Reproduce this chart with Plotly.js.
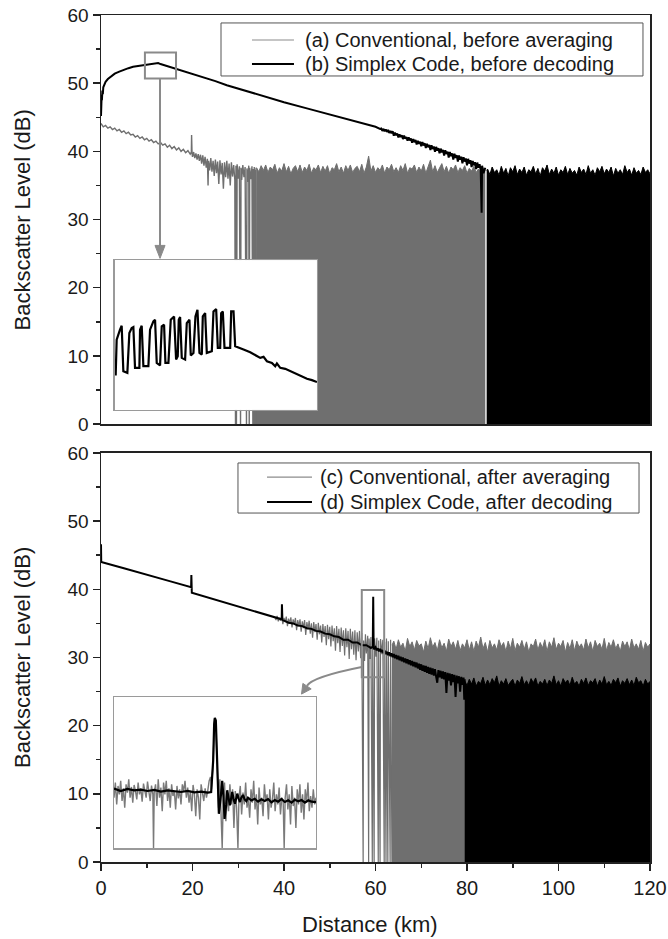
<!DOCTYPE html>
<html>
<head>
<meta charset="utf-8">
<script src="https://cdn.plot.ly/plotly-3.0.1.min.js"></script>
<style>html,body{margin:0;padding:0;background:#fff;}</style>
</head>
<body>
<div id="chart" style="width:668px;height:939px;"></div>
<script>
// ---------------- DATA (distance km, backscatter dB) ----------------
// Panel 1: (a) Conventional, before averaging  -- line part
const convA_line = [[0,44.1],[0.5,43.6],[1,43.8],[1.5,43.4],[2,43.6],[2.5,43.2],[3,43.4],[3.5,43.0],[4,43.2],[4.5,42.8],[5,43.0],[5.5,42.6],[6,42.8],[6.5,42.4],[7,42.5],[7.5,42.1],[8,42.3],[8.5,41.9],[9,42.1],[9.5,41.7],[10,41.9],[10.5,41.5],[11,41.7],[11.5,41.3],[12,41.5],[12.5,41.1],[13,41.3],[13.5,40.9],[14,41.1],[14.5,40.6],[15,40.9],[15.5,40.4],[16,40.7],[16.5,40.2],[17,40.5],[17.5,40.0],[18,40.3],[18.5,39.8],[19,40.1],[19.5,39.6],[19.75,39.9],[19.8,42.4],[19.9,39.7],[20,39.2],[20.25,39.9],[20.5,39.0],[20.75,39.7],[21,38.8],[21.25,39.6],[21.5,38.6],[21.75,39.5],[22,38.2],[22.25,39.4],[22.5,37.9],[22.75,39.2],[23,37.6],[23.25,38.9],[23.4,35.0],[23.5,38.6],[23.75,37.2],[24,39.0],[24.25,37.0],[24.5,38.6],[24.75,36.4],[25,38.8],[25.25,36.8],[25.5,38.5],[25.75,35.2],[26,38.7],[26.25,36.6],[26.5,38.3],[26.75,34.5],[27,38.4],[27.25,36.2],[27.5,38.6],[27.75,36.0],[28,38.2],[28.25,35.0],[28.5,38.4],[28.75,36.3],[29,38.0],[29.25,35.8],[29.4,0],[29.5,37.9],[29.6,0],[29.75,38.1],[30,36.0],[30.25,37.8],[30.5,0],[30.6,37.6],[30.75,35.8],[31,38.0],[31.25,36.2],[31.5,37.7],[31.8,0],[31.9,37.5],[32.1,35.5],[32.3,37.9],[32.4,0],[32.5,37.6],[32.75,35.9],[33,37.8],[33.2,0],[33.3,37.4],[33.4,0],[33.5,37.7],[33.6,0],[33.7,37.3],[33.8,0],[33.9,37.6],[34.0,0]];
// (a) noise floor, upper envelope (filled to 0)
const convA_floor = [[34,37.6],[34.5,37.0],[35,37.9],[35.5,37.2],[36,38.0],[36.5,36.9],[37,37.7],[37.5,37.3],[38,38.1],[38.5,36.8],[39,37.6],[39.5,37.1],[40,38.2],[40.5,37.0],[41,37.8],[41.5,36.7],[42,37.5],[42.5,37.9],[43,37.0],[43.5,38.0],[44,36.9],[44.5,37.7],[45,37.2],[45.5,38.1],[46,36.8],[46.5,37.6],[47,37.3],[47.5,38.0],[48,36.9],[48.5,37.8],[49,37.1],[49.5,37.9],[50,36.7],[50.5,37.6],[51,37.3],[51.5,38.2],[52,37.0],[52.5,37.7],[53,36.8],[53.5,37.9],[54,37.2],[54.5,38.0],[55,36.9],[55.5,37.5],[56,37.8],[56.5,37.0],[57,38.1],[57.5,36.8],[58,37.7],[58.5,39.3],[59,37.1],[59.5,37.9],[60,36.9],[60.5,37.6],[61,37.2],[61.5,38.0],[62,36.8],[62.5,37.7],[63,37.3],[63.5,38.1],[64,37.0],[64.5,37.6],[65,36.9],[65.5,37.9],[66,37.2],[66.5,38.2],[67,36.8],[67.5,37.6],[68,37.4],[68.5,38.0],[69,36.9],[69.5,37.7],[70,37.1],[70.5,38.1],[71,36.8],[71.5,37.8],[72,38.7],[72.5,37.0],[73,37.9],[73.5,36.9],[74,37.6],[74.5,38.2],[75,37.0],[75.5,37.8],[76,36.8],[76.5,37.7],[77,37.3],[77.5,38.0],[78,36.9],[78.5,37.6],[79,37.2],[79.5,37.9],[80,36.8],[80.5,37.5],[81,37.1],[81.5,37.8],[82,36.9],[82.5,37.4],[83,37.0],[83.5,37.6],[84,37.2]];
// (b) Simplex code, before decoding -- trace
const simB_line = [[0,45.2],[0.05,47.6],[0.1,46.4],[0.15,48.3],[0.2,47.5],[0.3,48.9],[0.4,48.4],[0.5,49.4],[0.7,49.8],[1,50.2],[1.5,50.6],[2,50.9],[2.5,51.2],[3,51.4],[4,51.7],[5,52.0],[6,52.2],[7,52.4],[8,52.5],[9,52.6],[10,52.7],[11,52.8],[12,52.9],[12.5,52.95],[13,52.8],[14,52.6],[15,52.4],[17.5,51.9],[20,51.35],[22.5,50.8],[25,50.3],[27.5,49.7],[30,49.2],[33,48.5],[36,47.9],[40,47.2],[45,46.3],[50,45.4],[55,44.5],[58,43.9],[60,43.6],[61,43.3],[61.25,43.35],[61.5,43.0],[61.75,43.3],[62,42.95],[62.25,43.2],[62.5,42.85],[62.75,43.15],[63,42.7],[63.25,43.0],[63.5,42.65],[63.75,42.95],[64,42.3],[64.25,42.75],[64.5,42.35],[64.75,42.6],[65,42.05],[65.25,42.5],[65.5,42.1],[65.75,42.35],[66,41.8],[66.25,42.3],[66.5,41.85],[66.75,42.1],[67,41.55],[67.25,42.05],[67.5,41.6],[67.75,41.9],[68,41.25],[68.25,41.8],[68.5,41.35],[68.75,41.65],[69,41.0],[69.25,41.55],[69.5,41.1],[69.75,41.4],[70,40.75],[70.25,41.35],[70.5,40.85],[70.75,41.2],[71,40.5],[71.25,41.1],[71.5,40.6],[71.75,40.95],[72,40.2],[72.25,40.9],[72.5,40.35],[72.75,40.7],[73,39.95],[73.25,40.65],[73.5,40.1],[73.75,40.45],[74,39.7],[74.25,40.4],[74.5,39.85],[74.75,40.2],[75,39.4],[75.25,40.15],[75.5,39.6],[75.75,39.95],[76,39.1],[76.25,39.9],[76.5,39.3],[76.75,39.7],[77,38.8],[77.25,39.65],[77.5,39.05],[77.75,39.45],[78,38.5],[78.25,39.4],[78.5,38.8],[78.75,39.2],[79,38.25],[79.25,39.15],[79.5,38.5],[79.75,38.95],[80,37.95],[80.25,38.9],[80.5,38.2],[80.75,38.7],[81,37.7],[81.25,38.6],[81.5,37.95],[81.75,38.4],[82,37.4],[82.25,38.35],[82.5,37.6],[82.75,38.1],[83,37.2],[83.2,31.0],[83.3,37.9],[83.6,36.8],[84,37.6]];
const simB_floor = [[84.3,37.2],[84.5,37.4],[85,36.6],[85.5,37.7],[86,36.9],[86.5,37.3],[87,36.5],[87.5,37.8],[88,36.8],[88.5,37.5],[89,36.4],[89.5,37.6],[90,37.0],[90.5,37.9],[91,36.6],[91.5,37.4],[92,36.9],[92.5,37.7],[93,36.5],[93.5,37.3],[94,37.0],[94.5,37.8],[95,36.7],[95.5,37.5],[96,36.4],[96.5,37.6],[97,37.1],[97.5,38.0],[98,36.6],[98.5,37.4],[99,36.8],[99.5,37.7],[100,36.5],[100.5,37.3],[101,36.9],[101.5,37.8],[102,36.6],[102.5,37.5],[103,36.8],[103.5,37.2],[104,36.5],[104.5,37.7],[105,36.9],[105.5,37.4],[106,36.6],[106.5,37.9],[107,36.8],[107.5,37.3],[108,36.5],[108.5,37.6],[109,37.0],[109.5,37.8],[110,36.7],[110.5,37.4],[111,36.9],[111.5,37.7],[112,36.4],[112.5,37.5],[113,36.8],[113.5,37.3],[114,36.6],[114.5,37.9],[115,36.9],[115.5,37.4],[116,36.5],[116.5,37.6],[117,36.8],[117.5,37.2],[118,36.6],[118.5,37.7],[119,36.9],[119.5,37.3],[120,36.7]];

// Panel 2: (c) Conventional, after averaging
const convC_line = [[38,35.9],[38.25,35.5],[38.5,36.1],[38.75,35.3],[39,35.8],[39.25,35.4],[39.5,36.0],[39.75,34.9],[40,35.8],[40.25,35.2],[40.5,36.0],[40.75,34.6],[41,35.7],[41.25,35.0],[41.5,35.9],[41.75,34.4],[42,35.6],[42.25,34.9],[42.5,35.8],[42.75,34.0],[43,35.5],[43.25,34.6],[43.5,35.6],[43.75,33.8],[44,35.3],[44.25,34.3],[44.5,35.5],[44.75,33.3],[45,35.2],[45.25,34.1],[45.5,35.4],[45.75,33.5],[46,35.0],[46.25,32.9],[46.5,35.2],[46.75,33.7],[47,34.9],[47.25,32.6],[47.5,35.1],[47.75,33.4],[48,34.7],[48.25,32.2],[48.5,34.9],[48.75,33.0],[49,34.6],[49.25,31.8],[49.5,34.8],[49.75,32.7],[50,34.5],[50.25,31.6],[50.5,34.7],[50.75,32.4],[51,34.3],[51.25,31.0],[51.5,34.6],[51.75,32.1],[52,34.2],[52.25,30.8],[52.5,34.4],[52.75,31.7],[53,34.0],[53.25,30.3],[53.5,34.3],[53.75,31.5],[54,33.9],[54.25,29.8],[54.5,34.2],[54.75,31.2],[55,33.8],[55.25,30.4],[55.5,34.0],[55.75,29.6],[56,33.7],[56.25,30.9],[56.5,33.9],[56.75,29.9],[57,33.6],[57.3,0],[57.4,32.5],[57.6,29.5],[57.8,33.4],[58.0,30.6],[58.3,33.2],[58.5,0],[58.6,32.8],[58.8,29.8],[59.0,33.0],[59.3,0],[59.4,32.6],[59.7,0],[59.8,32.8],[60.1,30.1],[60.3,32.9],[60.6,0],[60.7,32.5],[61.0,0],[61.1,32.7],[61.4,30.5],[61.6,32.6],[61.9,0],[62.0,32.3],[62.3,0],[62.4,32.8],[62.7,0],[62.8,32.4],[63.2,0],[63.3,32.6],[63.6,0]];
const convC_floor = [[63.6,31.8],[64,32.4],[64.5,31.2],[65,32.6],[65.5,31.5],[66,32.1],[66.5,30.9],[67,32.8],[67.5,31.6],[68,32.3],[68.5,31.1],[69,32.5],[69.5,31.7],[70,32.0],[70.5,30.8],[71,32.4],[71.5,31.3],[72,32.9],[72.5,31.5],[73,32.2],[73.5,31.0],[74,32.6],[74.5,31.4],[75,32.1],[75.5,30.9],[76,32.7],[76.5,31.6],[77,32.3],[77.5,31.2],[78,32.5],[78.5,31.0],[79,32.0],[79.5,31.4],[80,32.6],[80.5,31.1],[81,32.3],[81.5,30.9],[82,32.4],[82.5,31.5],[83,33.0],[83.5,31.3],[84,32.2],[84.5,30.8],[85,32.5],[85.5,31.4],[86,32.0],[86.5,31.1],[87,32.6],[87.5,31.6],[88,32.2],[88.5,30.9],[89,32.4],[89.5,31.3],[90,32.8],[90.5,31.0],[91,32.1],[91.5,31.5],[92,32.5],[92.5,31.2],[93,32.3],[93.5,30.8],[94,32.0],[94.5,31.6],[95,32.7],[95.5,31.1],[96,32.2],[96.5,31.4],[97,32.6],[97.5,30.9],[98,32.3],[98.5,31.5],[99,32.9],[99.5,31.2],[100,32.1],[100.5,31.6],[101,32.5],[101.5,30.8],[102,32.2],[102.5,31.3],[103,32.6],[103.5,31.0],[104,32.4],[104.5,31.5],[105,32.0],[105.5,31.1],[106,32.7],[106.5,31.4],[107,32.3],[107.5,30.9],[108,32.5],[108.5,31.6],[109,32.1],[109.5,31.2],[110,32.8],[110.5,31.0],[111,32.2],[111.5,31.5],[112,32.6],[112.5,31.3],[113,32.0],[113.5,30.9],[114,32.4],[114.5,31.6],[115,32.3],[115.5,31.1],[116,32.7],[116.5,31.4],[117,32.0],[117.5,31.2],[118,32.5],[118.5,30.9],[119,32.2],[119.5,31.5],[120,32.0]];
// (d) Simplex code, after decoding
const simD_line = [[0,46.6],[0.05,44.0],[5,43.1],[10,42.1],[15,41.2],[19.7,40.3],[19.75,42.1],[19.85,39.5],[25,38.5],[30,37.5],[35,36.5],[39.5,35.6],[39.55,37.8],[39.65,35.5],[40,35.4],[41,35.1],[42,35.0],[43,34.7],[44,34.6],[45,34.3],[46,34.2],[47,33.9],[48,33.8],[49,33.5],[50,33.4],[51,33.1],[52,33.0],[53,32.6],[54,32.6],[55,32.2],[56,32.2],[57,31.8],[58,31.8],[59,31.4],[59.4,31.6],[59.5,38.9],[59.6,31.2],[60,31.5],[60.25,31.05],[60.5,31.35],[60.75,30.9],[61,31.25],[61.25,30.8],[61.5,31.1],[61.75,30.65],[62,31.0],[62.25,30.5],[62.5,30.85],[62.75,30.35],[63,30.75],[63.25,30.2],[63.5,30.6],[63.75,30.05],[64,30.5],[64.25,29.9],[64.5,30.35],[64.75,29.75],[65,30.25],[65.25,29.6],[65.5,30.1],[65.75,29.45],[66,30.0],[66.25,29.3],[66.5,29.85],[66.75,29.15],[67,29.75],[67.25,29.0],[67.5,29.6],[67.75,28.85],[68,29.5],[68.25,28.7],[68.5,29.35],[68.75,28.55],[69,29.25],[69.25,28.4],[69.5,29.1],[69.75,28.2],[70,29.0],[70.25,28.05],[70.5,28.85],[70.75,27.9],[71,28.75],[71.25,27.75],[71.5,28.6],[71.75,27.6],[72,28.5],[72.25,27.5],[72.5,28.4],[72.75,27.35],[73,28.3],[73.25,27.2],[73.5,26.3],[73.75,28.15],[74,27.1],[74.25,28.05],[74.5,26.9],[74.75,27.95],[75,26.8],[75.25,27.85],[75.5,24.8],[75.75,27.75],[76,26.6],[76.25,27.65],[76.5,25.9],[76.75,27.55],[77,26.4],[77.25,27.45],[77.5,24.2],[77.75,27.35],[78,26.2],[78.25,27.25],[78.5,25.0],[78.75,27.15],[79,26.0],[79.25,27.05],[79.4,23.8],[79.5,26.8]];
const simD_floor = [[79.5,26.6],[80,25.9],[80.5,26.8],[81,26.1],[81.5,27.0],[82,25.8],[82.5,26.5],[83,26.2],[83.5,27.1],[84,25.9],[84.5,26.7],[85,26.0],[85.5,26.9],[86,26.3],[86.5,27.3],[87,25.8],[87.5,26.6],[88,26.1],[88.5,26.9],[89,25.9],[89.5,26.4],[90,26.8],[90.5,25.8],[91,26.7],[91.5,26.2],[92,27.2],[92.5,26.0],[93,26.6],[93.5,25.9],[94,26.9],[94.5,26.3],[95,27.0],[95.5,25.8],[96,26.5],[96.5,26.1],[97,26.8],[97.5,25.9],[98,26.7],[98.5,26.2],[99,27.3],[99.5,26.0],[100,26.6],[100.5,25.8],[101,26.9],[101.5,26.3],[102,26.7],[102.5,25.9],[103,27.1],[103.5,26.1],[104,26.5],[104.5,25.8],[105,26.8],[105.5,26.2],[106,27.0],[106.5,25.9],[107,26.6],[107.5,26.3],[108,26.9],[108.5,25.8],[109,26.7],[109.5,26.1],[110,27.2],[110.5,26.0],[111,26.5],[111.5,25.9],[112,26.8],[112.5,26.3],[113,27.0],[113.5,25.8],[114,26.6],[114.5,26.2],[115,26.9],[115.5,26.0],[116,26.7],[116.5,25.9],[117,27.1],[117.5,26.3],[118,26.6],[118.5,25.8],[119,26.8],[119.5,26.1],[120,26.5]];

// Inset 1 (zoom of code pulses near 12 km), relative units
const insetB = [[2,104],[5,212],[15,242],[20,254],[25,117],[37,112],[43,232],[50,247],[55,250],[60,127],[73,127],[75,242],[80,254],[85,132],[100,132],[105,242],[115,267],[120,272],[125,142],[135,134],[140,252],[147,257],[151,142],[160,142],[167,272],[177,282],[183,152],[188,162],[191,272],[195,280],[200,157],[210,152],[215,262],[223,272],[227,164],[235,172],[241,282],[247,302],[253,172],[260,167],[263,282],[270,292],[275,172],[290,177],[295,297],[303,304],[308,187],[315,187],[318,292],[323,297],[328,187],[345,187],[348,297],[355,297],[360,192],[370,187],[385,182],[405,174],[425,162],[435,157],[445,160],[455,147],[470,142],[480,132],[485,140],[495,127],[510,124],[525,117],[540,110],[555,104],[575,94],[590,90],[605,84]];
// Inset 2 (zoom of reflection near 59.5 km), relative units
const insetC = [[0,150],[4,195],[8,130],[12,185],[16,160],[20,200],[24,140],[28,178],[32,120],[36,190],[40,165],[44,205],[48,150],[52,182],[56,135],[60,188],[64,170],[68,145],[72,195],[76,160],[80,178],[84,138],[88,192],[92,165],[96,150],[100,198],[104,172],[108,140],[112,186],[116,160],[118,0],[120,165],[124,190],[128,125],[132,205],[136,150],[140,180],[144,110],[148,195],[152,160],[156,200],[160,140],[164,178],[168,120],[172,190],[176,155],[180,170],[184,115],[188,185],[192,148],[196,175],[200,130],[204,190],[208,170],[212,200],[216,150],[220,180],[224,135],[228,170],[232,110],[236,188],[240,160],[244,95],[248,175],[252,150],[256,85],[260,190],[264,165],[268,140],[272,178],[276,150],[280,172],[284,200],[288,212],[291,175],[296,260],[300,385],[304,370],[308,200],[312,120],[316,205],[320,90],[323,0],[326,140],[330,195],[334,80],[338,160],[342,110],[346,190],[350,130],[354,175],[358,60],[362,170],[366,120],[370,0],[373,150],[377,185],[381,100],[385,165],[389,130],[393,195],[397,120],[401,150],[405,90],[409,175],[413,135],[417,200],[421,115],[425,160],[429,70],[433,180],[437,130],[441,150],[445,95],[449,190],[453,140],[457,160],[461,85],[465,175],[469,120],[473,145],[477,195],[481,110],[485,160],[489,130],[493,180],[497,100],[501,150],[505,140],[508,0],[511,150],[515,190],[519,115],[523,160],[527,70],[531,185],[535,125],[539,150],[543,60],[547,175],[551,130],[555,190],[559,105],[563,160],[567,85],[571,175],[575,135],[579,195],[583,110],[587,155],[591,120],[595,175],[599,130],[603,150]];
const insetD = [[0,177],[20,170],[40,176],[60,172],[80,174],[100,170],[120,173],[140,168],[160,172],[180,170],[200,167],[220,170],[240,166],[260,168],[280,165],[290,167],[296,260],[299,370],[301,388],[304,380],[307,280],[310,150],[313,102],[318,145],[323,200],[327,150],[330,87],[335,130],[338,172],[342,150],[346,127],[350,150],[353,167],[357,145],[361,132],[365,148],[368,162],[372,148],[376,137],[380,150],[385,158],[390,145],[395,140],[400,150],[410,142],[420,147],[430,138],[440,145],[450,140],[460,146],[470,136],[480,143],[490,138],[500,146],[510,137],[520,142],[530,135],[540,144],[550,139],[560,143],[570,135],[580,142],[590,138],[603,137]];

const legendLabels = ['(a) Conventional, before averaging','(b) Simplex Code, before decoding','(c) Conventional, after averaging','(d) Simplex Code, after decoding'];
const yTitle = 'Backscatter Level (dB)';
const xTitle = 'Distance (km)';

// ---------------- PLOT ----------------
const FONT = 'Liberation Sans, Arial, Helvetica, sans-serif';
const GRAY = '#6f6f6f';
const BOX = '#8a8a8a';
const X = p => p.map(d => d[0]);
const Y = p => p.map(d => d[1]);

const traces = [
  {x:X(convA_line), y:Y(convA_line), xaxis:'x', yaxis:'y', type:'scatter', mode:'lines', name:legendLabels[0], line:{color:GRAY, width:1.4}},
  {x:X(convA_floor), y:Y(convA_floor), xaxis:'x', yaxis:'y', type:'scatter', mode:'lines', fill:'tozeroy', fillcolor:GRAY, line:{color:GRAY, width:1}},
  {x:X(simB_line), y:Y(simB_line), xaxis:'x', yaxis:'y', type:'scatter', mode:'lines', name:legendLabels[1], line:{color:'#000', width:2}},
  {x:X(simB_floor), y:Y(simB_floor), xaxis:'x', yaxis:'y', type:'scatter', mode:'lines', fill:'tozeroy', fillcolor:'#000', line:{color:'#000', width:1}},

  {x:X(convC_line), y:Y(convC_line), xaxis:'x2', yaxis:'y2', type:'scatter', mode:'lines', name:legendLabels[2], line:{color:GRAY, width:1.2}},
  {x:X(convC_floor), y:Y(convC_floor), xaxis:'x2', yaxis:'y2', type:'scatter', mode:'lines', fill:'tozeroy', fillcolor:GRAY, line:{color:GRAY, width:1}},
  {x:X(simD_line), y:Y(simD_line), xaxis:'x2', yaxis:'y2', type:'scatter', mode:'lines', name:legendLabels[3], line:{color:'#000', width:2}},
  {x:X(simD_floor), y:Y(simD_floor), xaxis:'x2', yaxis:'y2', type:'scatter', mode:'lines', fill:'tozeroy', fillcolor:'#000', line:{color:'#000', width:1}},

  {x:X(insetB), y:Y(insetB), xaxis:'x3', yaxis:'y3', type:'scatter', mode:'lines', line:{color:'#000', width:2.2}},
  {x:X(insetC), y:Y(insetC), xaxis:'x4', yaxis:'y4', type:'scatter', mode:'lines', line:{color:'#7a7a7a', width:1.4}},
  {x:X(insetD), y:Y(insetD), xaxis:'x4', yaxis:'y4', type:'scatter', mode:'lines', line:{color:'#000', width:2.2}}
];

const frame = {showgrid:false, zeroline:false, showline:true, mirror:true, linecolor:'#222', linewidth:1.5};
const yAx = {...frame, range:[0,60], tick0:0, dtick:10, ticks:'outside', ticklen:7, tickwidth:1.5, tickcolor:'#222',
  minor:{dtick:5, ticks:'outside', ticklen:4, tickwidth:1.5, tickcolor:'#222'},
  tickfont:{size:19, family:FONT, color:'#1a1a1a'}};
const insetAx = {showgrid:false, zeroline:false, showline:true, mirror:true, linecolor:'#9a9a9a', linewidth:1.5,
  ticks:'', showticklabels:false, fixedrange:true};

// hand-drawn legends (boxes + sample lines + labels), positions in paper fractions
const legendBoxes = [
  {x0:0.2186, x1:0.9872, y0:0.9280, y1:0.9906, rows:[0.9705, 0.9421], sx0:0.2750, sx1:0.3515, tx:0.3679, labels:[0,1]},
  {x0:0.2495, x1:0.9800, y0:0.4120, y1:0.4711, rows:[0.4545, 0.4250], sx0:0.3024, sx1:0.3843, tx:0.3953, labels:[2,3]}
];
const legendStyles = [{color:'#8c8c8c', width:1.2}, {color:'#000', width:2}];
const legendShapes = [], legendAnn = [];
legendBoxes.forEach(b => {
  legendShapes.push({type:'rect', xref:'paper', yref:'paper', x0:b.x0, x1:b.x1, y0:b.y0, y1:b.y1,
    line:{color:'#555', width:1}, fillcolor:'#fff', layer:'above'});
  b.rows.forEach((ry, i) => {
    legendShapes.push({type:'line', xref:'paper', yref:'paper', x0:b.sx0, x1:b.sx1, y0:ry, y1:ry, line:legendStyles[i], layer:'above'});
    legendAnn.push({text:legendLabels[b.labels[i]], xref:'paper', yref:'paper', x:b.tx, y:ry, xanchor:'left', yanchor:'middle',
      showarrow:false, font:{size:20, family:FONT, color:'#1a1a1a'}});
  });
});

const layout = {
  width:668, height:939,
  margin:{l:101, r:18, t:15, b:77},
  paper_bgcolor:'#fff', plot_bgcolor:'#fff',
  font:{family:FONT, color:'#1a1a1a'},
  showlegend:false,
  xaxis:{...frame, domain:[0,1], anchor:'y', range:[0,120], ticks:'', showticklabels:false},
  yaxis:{...yAx, domain:[0.5171,1], anchor:'x'},
  xaxis2:{...frame, domain:[0,1], anchor:'y2', range:[0,120], tick0:0, dtick:20, ticks:'outside', ticklen:7, tickwidth:1.5, tickcolor:'#222',
    minor:{dtick:10, ticks:'outside', ticklen:4, tickwidth:1.5, tickcolor:'#222'},
    tickfont:{size:20, family:FONT, color:'#1a1a1a'}},
  yaxis2:{...yAx, domain:[0,0.4829], anchor:'x2'},
  xaxis3:{...insetAx, domain:[0.0255,0.3934], anchor:'y3', range:[0,605]},
  yaxis3:{...insetAx, domain:[0.5337,0.7107], anchor:'x3', range:[0,452]},
  xaxis4:{...insetAx, domain:[0.0237,0.3916], anchor:'y4', range:[0,603]},
  yaxis4:{...insetAx, domain:[0.0165,0.1948], anchor:'x4', range:[0,450]},
  shapes:[
    // zoom box + arrow, top panel
    {type:'rect', xref:'x', yref:'y', x0:9.6, x1:16.4, y0:50.7, y1:54.5, line:{color:BOX, width:2}, layer:'above'},
    {type:'line', xref:'x', yref:'y', x0:12.9, x1:12.9, y0:50.7, y1:26.0, line:{color:BOX, width:2}, layer:'above'},
    {type:'path', xref:'x', yref:'y', path:'M 11.8,26.2 L 14.0,26.2 L 12.9,24.3 Z', fillcolor:BOX, line:{color:BOX, width:1}, layer:'above'},
    // zoom box + curved arrow, bottom panel
    {type:'rect', xref:'x2', yref:'y2', x0:57.0, x1:61.9, y0:27.1, y1:39.9, line:{color:BOX, width:2}, layer:'above'},
    {type:'path', xref:'x2', yref:'y2', path:'M 57.0,28.6 Q 46.23,27.16 45.03,25.85', line:{color:BOX, width:2}, layer:'above'},
    {type:'path', xref:'x2', yref:'y2', path:'M 45.94,25.39 L 44.13,26.2 L 43.83,24.63 Z', fillcolor:BOX, line:{color:BOX, width:1}, layer:'above'},
    ...legendShapes
  ],
  annotations:[
    {text:yTitle, xref:'paper', yref:'paper', x:-0.1439, y:0.7586, xanchor:'center', yanchor:'middle', textangle:-90, showarrow:false,
     font:{size:22, family:FONT, color:'#1a1a1a'}},
    {text:yTitle, xref:'paper', yref:'paper', x:-0.1439, y:0.242, xanchor:'center', yanchor:'middle', textangle:-90, showarrow:false,
     font:{size:22, family:FONT, color:'#1a1a1a'}},
    {text:xTitle, xref:'paper', yref:'paper', x:0.49, y:-0.0732, xanchor:'center', yanchor:'middle', showarrow:false,
     font:{size:22, family:FONT, color:'#1a1a1a'}},
    ...legendAnn
  ]
};

Plotly.newPlot('chart', traces, layout, {staticPlot:true, displayModeBar:false});
</script>
</body>
</html>
